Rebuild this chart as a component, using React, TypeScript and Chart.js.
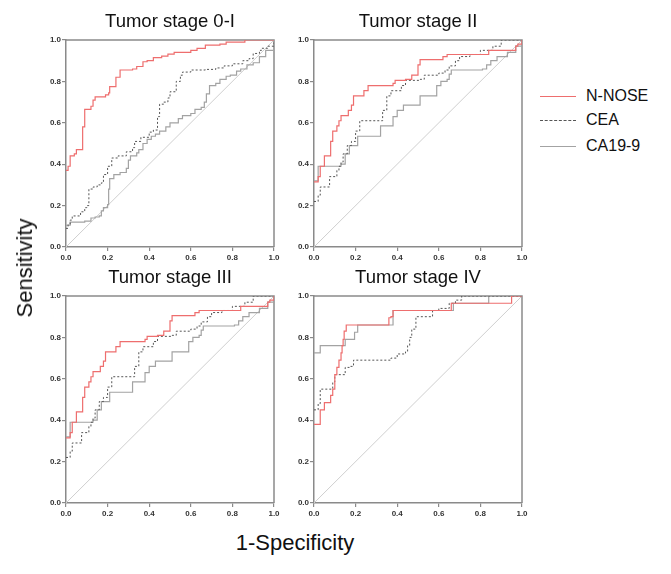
import React, { useEffect, useRef } from "react";
import { Chart, registerables } from "chart.js";

Chart.register(...registerables);

// ---------- DATA (ROC curves: x = 1-Specificity where step occurs, y = Sensitivity after step) ----------
const seriesNames = ["N-NOSE", "CEA", "CA19-9"];
const panelTitles = ["Tumor stage 0-I", "Tumor stage II", "Tumor stage III", "Tumor stage IV"];
const axisTicks = [0, 0.2, 0.4, 0.6, 0.8, 1.0];

// Tumor stage 0-I
const s0_nnose_x = [0, 0.01, 0.02, 0.04, 0.05, 0.08, 0.09, 0.12, 0.13, 0.14, 0.19, 0.205, 0.21, 0.24, 0.26, 0.32, 0.34, 0.37, 0.39, 0.42, 0.46, 0.49, 0.52, 0.6, 0.63, 0.67, 0.74, 0.77, 0.86, 1.0];
const s0_nnose_y = [0.37, 0.39, 0.44, 0.45, 0.47, 0.58, 0.665, 0.68, 0.71, 0.725, 0.735, 0.745, 0.775, 0.82, 0.855, 0.86, 0.872, 0.895, 0.9, 0.915, 0.922, 0.932, 0.94, 0.95, 0.96, 0.975, 0.98, 0.99, 1.0, 1.0];
const s0_cea_x = [0, 0.01, 0.02, 0.03, 0.07, 0.09, 0.1, 0.11, 0.13, 0.15, 0.17, 0.18, 0.2, 0.22, 0.25, 0.29, 0.32, 0.33, 0.36, 0.4, 0.42, 0.44, 0.45, 0.47, 0.49, 0.5, 0.53, 0.55, 0.56, 0.6, 0.67, 0.72, 0.76, 0.8, 0.85, 0.88, 0.9, 0.93, 0.94, 0.97, 1.0];
const s0_cea_y = [0.09, 0.11, 0.13, 0.15, 0.17, 0.19, 0.2, 0.28, 0.29, 0.3, 0.31, 0.35, 0.39, 0.43, 0.44, 0.46, 0.48, 0.51, 0.53, 0.555, 0.565, 0.63, 0.69, 0.7, 0.72, 0.75, 0.8, 0.83, 0.845, 0.855, 0.858, 0.865, 0.875, 0.885, 0.9, 0.91, 0.935, 0.95, 0.96, 0.97, 1.0];
const s0_ca199_x = [0, 0.02, 0.09, 0.12, 0.14, 0.16, 0.17, 0.18, 0.2, 0.205, 0.21, 0.23, 0.26, 0.29, 0.3, 0.31, 0.34, 0.35, 0.37, 0.39, 0.41, 0.43, 0.45, 0.48, 0.5, 0.54, 0.56, 0.6, 0.62, 0.65, 0.665, 0.675, 0.69, 0.72, 0.74, 0.77, 0.79, 0.82, 0.84, 0.87, 0.9, 0.93, 0.96, 1.0];
const s0_ca199_y = [0.105, 0.12, 0.125, 0.14, 0.145, 0.15, 0.175, 0.19, 0.205, 0.28, 0.33, 0.35, 0.36, 0.38, 0.42, 0.44, 0.455, 0.47, 0.5, 0.52, 0.535, 0.545, 0.56, 0.58, 0.6, 0.62, 0.635, 0.645, 0.665, 0.675, 0.7, 0.74, 0.78, 0.79, 0.81, 0.825, 0.83, 0.85, 0.86, 0.88, 0.89, 0.92, 0.95, 1.0];

// Tumor stage II
const s2_nnose_x = [0, 0.02, 0.03, 0.05, 0.08, 0.09, 0.11, 0.12, 0.13, 0.165, 0.18, 0.19, 0.24, 0.26, 0.38, 0.39, 0.44, 0.47, 0.5, 0.51, 0.62, 0.64, 0.84, 0.97, 0.98, 1.0];
const s2_nnose_y = [0.315, 0.34, 0.39, 0.44, 0.51, 0.56, 0.585, 0.61, 0.635, 0.66, 0.685, 0.73, 0.755, 0.78, 0.79, 0.805, 0.81, 0.83, 0.88, 0.905, 0.92, 0.93, 0.95, 0.97, 0.98, 1.0];
const s2_cea_x = [0, 0.02, 0.03, 0.075, 0.11, 0.12, 0.13, 0.14, 0.16, 0.18, 0.2, 0.22, 0.33, 0.35, 0.37, 0.42, 0.44, 0.51, 0.53, 0.6, 0.63, 0.65, 0.68, 0.7, 0.75, 0.8, 0.86, 0.9, 1.0];
const s2_cea_y = [0.22, 0.25, 0.29, 0.34, 0.37, 0.39, 0.41, 0.45, 0.49, 0.51, 0.56, 0.61, 0.66, 0.73, 0.755, 0.78, 0.805, 0.81, 0.83, 0.84, 0.855, 0.875, 0.9, 0.92, 0.93, 0.95, 0.97, 1.0, 1.0];
const s2_ca199_x = [0, 0.02, 0.13, 0.15, 0.17, 0.21, 0.32, 0.38, 0.4, 0.43, 0.51, 0.59, 0.61, 0.64, 0.65, 0.66, 0.81, 0.83, 0.85, 0.88, 0.93, 0.97, 1.0];
const s2_ca199_y = [0.32, 0.39, 0.4, 0.45, 0.49, 0.535, 0.585, 0.63, 0.66, 0.685, 0.73, 0.78, 0.8, 0.81, 0.835, 0.855, 0.86, 0.88, 0.9, 0.92, 0.94, 0.97, 1.0];

// Tumor stage III
const s3_nnose_x = [0, 0.02, 0.03, 0.05, 0.08, 0.09, 0.11, 0.12, 0.13, 0.165, 0.18, 0.19, 0.24, 0.26, 0.38, 0.39, 0.44, 0.47, 0.5, 0.51, 0.62, 0.64, 0.84, 0.97, 0.98, 1.0];
const s3_nnose_y = [0.315, 0.34, 0.39, 0.44, 0.51, 0.56, 0.585, 0.61, 0.635, 0.66, 0.685, 0.73, 0.755, 0.78, 0.79, 0.805, 0.81, 0.83, 0.88, 0.905, 0.92, 0.93, 0.95, 0.97, 0.98, 1.0];
const s3_cea_x = [0, 0.02, 0.03, 0.075, 0.11, 0.12, 0.13, 0.14, 0.16, 0.18, 0.2, 0.22, 0.33, 0.35, 0.37, 0.42, 0.44, 0.51, 0.53, 0.6, 0.63, 0.65, 0.68, 0.7, 0.75, 0.8, 0.86, 0.9, 1.0];
const s3_cea_y = [0.22, 0.25, 0.29, 0.34, 0.37, 0.39, 0.41, 0.45, 0.49, 0.51, 0.56, 0.61, 0.66, 0.73, 0.755, 0.78, 0.805, 0.81, 0.83, 0.84, 0.855, 0.875, 0.9, 0.92, 0.93, 0.95, 0.97, 1.0, 1.0];
const s3_ca199_x = [0, 0.02, 0.13, 0.15, 0.17, 0.21, 0.32, 0.38, 0.4, 0.43, 0.51, 0.59, 0.61, 0.64, 0.65, 0.66, 0.81, 0.83, 0.85, 0.88, 0.93, 0.97, 1.0];
const s3_ca199_y = [0.32, 0.39, 0.4, 0.45, 0.49, 0.535, 0.585, 0.63, 0.66, 0.685, 0.73, 0.78, 0.8, 0.81, 0.835, 0.855, 0.86, 0.88, 0.9, 0.92, 0.94, 0.97, 1.0];

// Tumor stage IV
const s4_nnose_x = [0, 0.03, 0.05, 0.08, 0.09, 0.1, 0.11, 0.12, 0.13, 0.135, 0.14, 0.145, 0.155, 0.36, 0.37, 0.38, 0.66, 0.95, 1.0];
const s4_nnose_y = [0.38, 0.45, 0.485, 0.52, 0.55, 0.62, 0.655, 0.69, 0.725, 0.76, 0.79, 0.83, 0.86, 0.895, 0.9, 0.93, 0.965, 1.0, 1.0];
const s4_cea_x = [0, 0.02, 0.03, 0.09, 0.1, 0.15, 0.17, 0.19, 0.37, 0.4, 0.44, 0.45, 0.46, 0.47, 0.49, 0.57, 0.6, 0.65, 0.68, 0.71, 1.0];
const s4_cea_y = [0.45, 0.48, 0.55, 0.585, 0.62, 0.655, 0.66, 0.69, 0.70, 0.72, 0.73, 0.76, 0.8, 0.84, 0.9, 0.93, 0.94, 0.965, 0.98, 1.0, 1.0];
const s4_ca199_x = [0, 0.03, 0.15, 0.195, 0.21, 0.38, 0.67, 0.84, 1.0];
const s4_ca199_y = [0.725, 0.76, 0.79, 0.825, 0.86, 0.93, 0.965, 1.0, 1.0];

const refLineX = [0, 1];
const refLineY = [0, 1];

// ---------- STYLE ----------
const FONT = 'Arial, "Liberation Sans", sans-serif';
const COLORS = ["#ee6e6e", "#555555", "#a3a3a3"];
const WIDTHS = [1.2, 1, 1.2];
const DASHES: number[][] = [[], [2, 2], []];
const AXIS_COLOR = "#8a8a8a";

const toPts = (xs: number[], ys: number[]) => xs.map((x, i) => ({ x, y: ys[i] }));

const panelData = [
  [toPts(s0_nnose_x, s0_nnose_y), toPts(s0_cea_x, s0_cea_y), toPts(s0_ca199_x, s0_ca199_y)],
  [toPts(s2_nnose_x, s2_nnose_y), toPts(s2_cea_x, s2_cea_y), toPts(s2_ca199_x, s2_ca199_y)],
  [toPts(s3_nnose_x, s3_nnose_y), toPts(s3_cea_x, s3_cea_y), toPts(s3_ca199_x, s3_ca199_y)],
  [toPts(s4_nnose_x, s4_nnose_y), toPts(s4_cea_x, s4_cea_y), toPts(s4_ca199_x, s4_ca199_y)],
];

const CANVAS_W = 255;
const CANVAS_H = 265;
const panelPos = [
  { left: 30, top: 0 },
  { left: 278, top: 0 },
  { left: 30, top: 256 },
  { left: 278, top: 256 },
];

const framePlugin = {
  id: "frame",
  beforeDatasetsDraw(chart: any) {
    const { ctx, chartArea } = chart;
    ctx.save();
    ctx.strokeStyle = AXIS_COLOR;
    ctx.lineWidth = 1.5;
    ctx.beginPath();
    ctx.moveTo(chartArea.left, chartArea.top);
    ctx.lineTo(chartArea.right, chartArea.top);
    ctx.lineTo(chartArea.right, chartArea.bottom);
    ctx.stroke();
    ctx.restore();
  },
};

function Panel({ index }: { index: number }) {
  const ref = useRef<HTMLCanvasElement | null>(null);
  useEffect(() => {
    if (!ref.current) return;
    const series = panelData[index];
    const datasets: any[] = series.map((pts, i) => ({
      label: seriesNames[i],
      data: pts,
      showLine: true,
      stepped: "before",
      borderColor: COLORS[i],
      borderWidth: WIDTHS[i],
      borderDash: DASHES[i],
      pointRadius: 0,
      fill: false,
    }));
    datasets.push({
      label: "reference",
      data: toPts(refLineX, refLineY),
      showLine: true,
      borderColor: "#cfcfcf",
      borderWidth: 1,
      pointRadius: 0,
      fill: false,
    });
    const tickCfg = {
      font: { family: FONT, size: 8, weight: "bold" as const },
      color: "#333",
      autoSkip: false,
      maxRotation: 0,
      callback: (v: any) => Number(v).toFixed(1),
    };
    const chart = new Chart(ref.current, {
      type: "scatter",
      data: { datasets },
      options: {
        animation: false,
        responsive: false,
        events: [],
        layout: { padding: { left: 0, right: 11, top: 0, bottom: 0 } },
        plugins: {
          legend: { display: false },
          tooltip: { enabled: false },
          title: {
            display: true,
            text: panelTitles[index],
            fullSize: false,
            color: "#111",
            font: { family: FONT, size: 18.5, weight: "normal" },
            padding: { top: 11, bottom: 6.8 },
          },
        },
        scales: {
          x: {
            type: "linear",
            min: 0,
            max: 1,
            afterBuildTicks: (s: any) => {
              s.ticks = axisTicks.map((v) => ({ value: v }));
            },
            ticks: { ...tickCfg, padding: 2 },
            grid: { drawOnChartArea: false, tickLength: 4, color: AXIS_COLOR, lineWidth: 1.2 },
            border: { color: AXIS_COLOR, width: 1.5 },
            afterFit: (s: any) => {
              s.height = 18;
            },
          },
          y: {
            type: "linear",
            min: 0,
            max: 1,
            afterBuildTicks: (s: any) => {
              s.ticks = axisTicks.map((v) => ({ value: v }));
            },
            ticks: { ...tickCfg, padding: 1 },
            grid: { drawOnChartArea: false, tickLength: 4, color: AXIS_COLOR, lineWidth: 1.2 },
            border: { color: AXIS_COLOR, width: 1.5 },
            afterFit: (s: any) => {
              s.width = 36;
            },
          },
        },
      } as any,
      plugins: [framePlugin],
    });
    return () => chart.destroy();
  }, [index]);
  const p = panelPos[index];
  return (
    <canvas
      ref={ref}
      width={CANVAS_W}
      height={CANVAS_H}
      style={{ position: "absolute", left: p.left, top: p.top, width: CANVAS_W, height: CANVAS_H }}
    />
  );
}

const legendRows = [
  { y: 96, style: "solid" },
  { y: 120, style: "dashed" },
  { y: 146, style: "solid" },
];

export default function App() {
  return (
    <div
      style={{
        position: "absolute",
        left: 0,
        top: 0,
        width: 671,
        height: 574,
        background: "#fff",
        fontFamily: FONT,
        color: "#111",
      }}
    >
      {[0, 1, 2, 3].map((i) => (
        <Panel key={i} index={i} />
      ))}
      {legendRows.map((r, i) => (
        <React.Fragment key={i}>
          <div
            style={{
              position: "absolute",
              left: 540,
              top: r.y,
              width: 36,
              height: 0,
              borderTop: `1px ${r.style} ${COLORS[i]}`,
            }}
          />
          <div
            style={{
              position: "absolute",
              left: 586,
              top: r.y,
              transform: "translateY(-50%)",
              fontSize: 16,
              lineHeight: 1,
              whiteSpace: "nowrap",
            }}
          >
            {seriesNames[i]}
          </div>
        </React.Fragment>
      ))}
      <div
        style={{
          position: "absolute",
          left: 25,
          top: 268,
          transform: "translate(-50%, -50%) rotate(-90deg)",
          fontSize: 22,
          lineHeight: 1,
          whiteSpace: "nowrap",
        }}
      >
        Sensitivity
      </div>
      <div
        style={{
          position: "absolute",
          left: 295,
          top: 543,
          transform: "translate(-50%, -50%)",
          fontSize: 22,
          lineHeight: 1,
          whiteSpace: "nowrap",
        }}
      >
        1-Specificity
      </div>
    </div>
  );
}
